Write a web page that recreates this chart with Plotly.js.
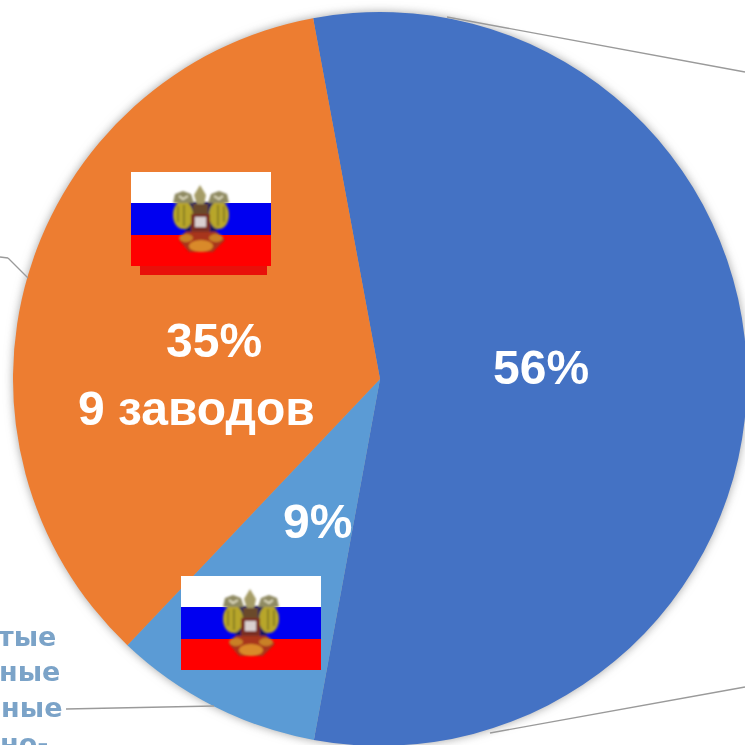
<!DOCTYPE html>
<html>
<head>
<meta charset="utf-8">
<script src="https://cdn.plot.ly/plotly-3.0.1.min.js"></script>
<style>
html,body{margin:0;padding:0;background:#fff;width:745px;height:745px;overflow:hidden}
#chart{width:760px;height:760px;filter:blur(0.45px)}
.pielayer{filter:drop-shadow(0 0 5px rgba(90,90,90,.55))}
</style>
</head>
<body>
<div id="chart"></div>
<script>
var sliceNames = ["Доля 1", "Доля 2", "Доля 3"];
var sliceValues = [55.8, 9.2, 35];
var sliceColors = ["#4472C4", "#5B9BD5", "#ED7D31"];
var sideWords = ["тые", "ные", "ьные", "но-"];
var plantsNote = "9 заводов";

var W = 760, H = 760;
function px(x){ return x / W; }
function py(y){ return 1 - y / H; }

var emblem = '<g filter="url(#b)">' +
  '<path d="M54 30H86L90 54 82 62H58L50 54Z" fill="#14145e"/>' +
  '<ellipse cx="52" cy="43" rx="10" ry="14" fill="#b8a62c"/>' +
  '<ellipse cx="88" cy="43" rx="10" ry="14" fill="#b8a62c"/>' +
  '<path d="M47 34V50M53 33V54M87 33V54M93 34V50" stroke="#8a7f20" stroke-width="2"/>' +
  '<path d="M42 31L44 22 52 19 60 22 63 31Z" fill="#8f8a62"/>' +
  '<path d="M98 31L96 22 88 19 80 22 77 31Z" fill="#8f8a62"/>' +
  '<path d="M48 24L52 27 57 24M83 24L88 27 92 24" stroke="#e0dcc0" stroke-width="2" fill="none"/>' +
  '<path d="M69 13L75 23 73 33H66L63 23Z" fill="#a59c66"/>' +
  '<path d="M62 32H77V44H62Z" fill="#6b4a2a"/>' +
  '<rect x="60" y="42" width="19" height="18" fill="#7a2f22"/>' +
  '<rect x="64" y="45" width="11" height="10" fill="#d9cfd0"/>' +
  '<path d="M54 60H86L94 68 82 80H58L48 68Z" fill="#a8341a"/>' +
  '<ellipse cx="70" cy="74" rx="12" ry="6" fill="#d98a2a"/>' +
  '<ellipse cx="55" cy="66" rx="7" ry="4" fill="#c98028"/>' +
  '<ellipse cx="85" cy="66" rx="7" ry="4" fill="#c98028"/>' +
  '</g>';
function flag(){
  var svg = '<svg xmlns="http://www.w3.org/2000/svg" width="140" height="94" viewBox="0 0 140 94">' +
    '<defs><filter id="b" x="-10%" y="-10%" width="120%" height="120%"><feGaussianBlur stdDeviation="0.9"/></filter></defs>' +
    '<rect width="140" height="32" fill="#fff"/>' +
    '<rect y="31" width="140" height="32" fill="#0000f0"/>' +
    '<rect y="63" width="140" height="31" fill="#ff0000"/>' + emblem + '</svg>';
  return 'data:image/svg+xml;base64,' + btoa(svg);
}
function flagImage(l, t){
  return {source: flag(), xref:'paper', yref:'paper', x:px(l), y:py(t), sizex:140/W, sizey:94/H,
          xanchor:'left', yanchor:'top', sizing:'stretch', layer:'above'};
}
function note(text, x, y, size, color, anchor, family){
  return {text:'<b>' + text + '</b>', xref:'paper', yref:'paper', x:px(x), y:py(y), showarrow:false, xanchor:anchor||'center', yanchor:'middle',
          font:{family:family||'"Liberation Sans", Arial, sans-serif', size:size, color:color}};
}
var sideFont = '"DejaVu Sans", sans-serif';
var sideColor = '#7BA3C8';
var annotations = [
  note(Math.round(sliceValues[0]) + '%', 541, 367, 48, '#fff'),
  note(Math.round(sliceValues[1]) + '%', 317, 521, 48, '#fff'),
  note(Math.round(sliceValues[2]) + '%', 214, 340, 48, '#fff'),
  note(plantsNote, 196, 408, 48, '#fff'),
  note(sideWords[0], 58, 636, 27, sideColor, 'right', sideFont),
  note(sideWords[1], 62, 671, 27, sideColor, 'right', sideFont),
  note(sideWords[2], 64, 707, 27, sideColor, 'right', sideFont),
  note(sideWords[3], 50, 743, 27, sideColor, 'right', sideFont)
];
var lineStyle = {color:'#9a9a9a', width:1.3};
function seg(x0, y0, x1, y1){
  return {type:'line', xref:'paper', yref:'paper', x0:px(x0), y0:py(y0), x1:px(x1), y1:py(y1), line:lineStyle};
}

Plotly.newPlot('chart', [{
  type:'pie',
  labels:sliceNames,
  values:sliceValues,
  sort:false,
  direction:'clockwise',
  rotation:-10.5,
  textinfo:'none',
  hoverinfo:'skip',
  marker:{colors:sliceColors, line:{width:0}},
  domain:{x:[13/W, 747/W], y:[1 - 746/H, 1 - 12/H]},
  showlegend:false
}], {
  width:W, height:H,
  margin:{l:0,r:0,t:0,b:0},
  paper_bgcolor:'#fff',
  showlegend:false,
  annotations:annotations,
  images:[flagImage(131,172), flagImage(181,576)],
  shapes:[
    {type:'rect', xref:'paper', yref:'paper', x0:px(140), x1:px(267), y0:py(266), y1:py(275), fillcolor:'#e8100a', line:{width:0}, layer:'above'},
    seg(447,17,745,72),
    seg(490,733,745,687),
    seg(66,709,214,706),
    seg(0,257,8,258),
    seg(8,258,28,278)
  ]
}, {displayModeBar:false, staticPlot:true});
</script>
</body>
</html>
